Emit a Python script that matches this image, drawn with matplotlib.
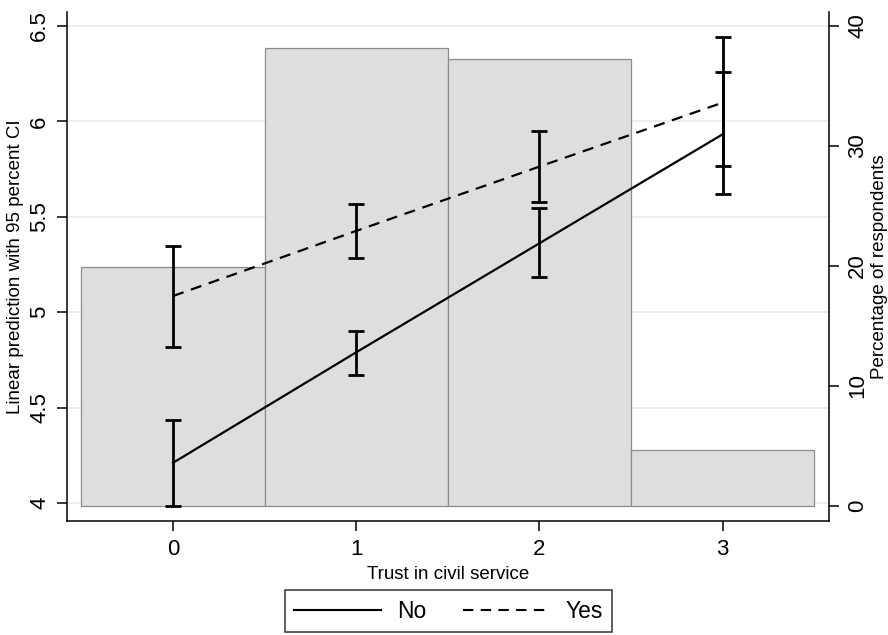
import matplotlib
matplotlib.use("Agg")
import matplotlib.pyplot as plt
from matplotlib.lines import Line2D

plt.rcParams['font.family'] = ['Liberation Sans', 'DejaVu Sans']

# Data
trust = [0, 1, 2, 3]
pct_respondents = [19.9, 38.2, 37.25, 4.65]

no_pred = [4.211, 4.790, 5.361, 5.932]
no_lo = [3.984, 4.669, 5.186, 5.619]
no_hi = [4.433, 4.901, 5.545, 6.441]

yes_pred = [5.085, 5.426, 5.763, 6.098]
yes_lo = [4.819, 5.282, 5.576, 5.768]
yes_hi = [5.347, 5.566, 5.950, 6.261]

left_ticks = [4, 4.5, 5, 5.5, 6, 6.5]
left_ticklabels = ['4', '4.5', '5', '5.5', '6', '6.5']
right_ticks = [0, 10, 20, 30, 40]
x_ticks = [0, 1, 2, 3]

fig = plt.figure(figsize=(8.88, 6.35), dpi=100)
pos = [67/888, 1 - 521/635, (829 - 67)/888, (521 - 12)/635]
ax = fig.add_axes(pos)
ax2 = ax.twinx()
ax3 = ax.twinx()

ax.set_zorder(1)
ax2.set_zorder(2)
ax3.set_zorder(3)
ax2.patch.set_visible(False)
ax3.patch.set_visible(False)

ylim_left = (3.906, 6.573)
ylim_right = (-1.25, 41.17)
xlim = (-0.579, 3.581)

# grid on primary axes
ax.set_ylim(*ylim_left)
ax.set_xlim(*xlim)
ax.set_yticks(left_ticks)
ax.set_yticklabels(left_ticklabels)
ax.yaxis.grid(True, color='#eaeaea', linewidth=1.2)
ax.set_axisbelow(True)

# bars on twin
ax2.bar(trust, pct_respondents, width=1.0, color='#dedede', edgecolor='#8c8c8c', linewidth=0.9)
ax2.set_ylim(*ylim_right)
ax2.set_xlim(*xlim)
ax2.set_yticks(right_ticks)
ax2.set_ylabel('Percentage of respondents', fontsize=13.5)
ax2.yaxis.set_label_coords(1.0 + (871 - 829) / 762, 0.5)

# lines on top
ax3.set_ylim(*ylim_left)
ax3.set_xlim(*xlim)
ax3.plot(trust, no_pred, color='black', lw=1.6, linestyle='-')
ax3.plot(trust, yes_pred, color='black', lw=1.6, linestyle=(0, (5, 3.5)))
for lo, hi in [(no_lo, no_hi), (yes_lo, yes_hi)]:
    ax3.vlines(trust, lo, hi, color='black', lw=2.0)
    ax3.plot(trust, lo, linestyle='none', marker='_', markersize=12, mew=2.0, color='black')
    ax3.plot(trust, hi, linestyle='none', marker='_', markersize=12, mew=2.0, color='black')
ax3.set_yticks([])
for s in ax3.spines.values():
    s.set_visible(False)

# spines
for a in (ax, ax2):
    a.spines['top'].set_visible(False)
    for s in a.spines.values():
        s.set_linewidth(1.1)
ax2.spines['left'].set_visible(False)
ax.spines['right'].set_visible(False)
ax2.spines['bottom'].set_visible(False)

ax.set_xticks(x_ticks)
ax.set_xticklabels([str(v) for v in x_ticks])
ax.tick_params(axis='x', length=7, width=1.1, pad=6, labelsize=16)
ax.tick_params(axis='y', length=7, width=1.1, pad=5, labelsize=16, labelrotation=90)
ax2.tick_params(axis='y', length=7, width=1.1, pad=6, labelsize=16, labelrotation=90)
for lab in ax.get_yticklabels() + ax2.get_yticklabels():
    lab.set_va('center')

ax.set_ylabel('Linear prediction with 95 percent CI', fontsize=13.5)
ax.yaxis.set_label_coords(-(67 - 24) / 762, 0.5)
ax.set_xlabel('Trust in civil service', fontsize=13.5, labelpad=4)

handles = [Line2D([], [], color='black', lw=1.5, linestyle='-'),
           Line2D([], [], color='black', lw=1.5, linestyle=(0, (5, 3.5)))]
leg = fig.legend(handles, ['No', 'Yes'], loc='lower center', bbox_to_anchor=(0.505, -0.013),
                 ncol=2, fontsize=16.5, frameon=True, fancybox=False, edgecolor='black',
                 handlelength=3.8, columnspacing=1.6, borderpad=0.4, handletextpad=0.7)
leg.get_frame().set_linewidth(1.1)

fig.savefig('out.png', dpi=100)
